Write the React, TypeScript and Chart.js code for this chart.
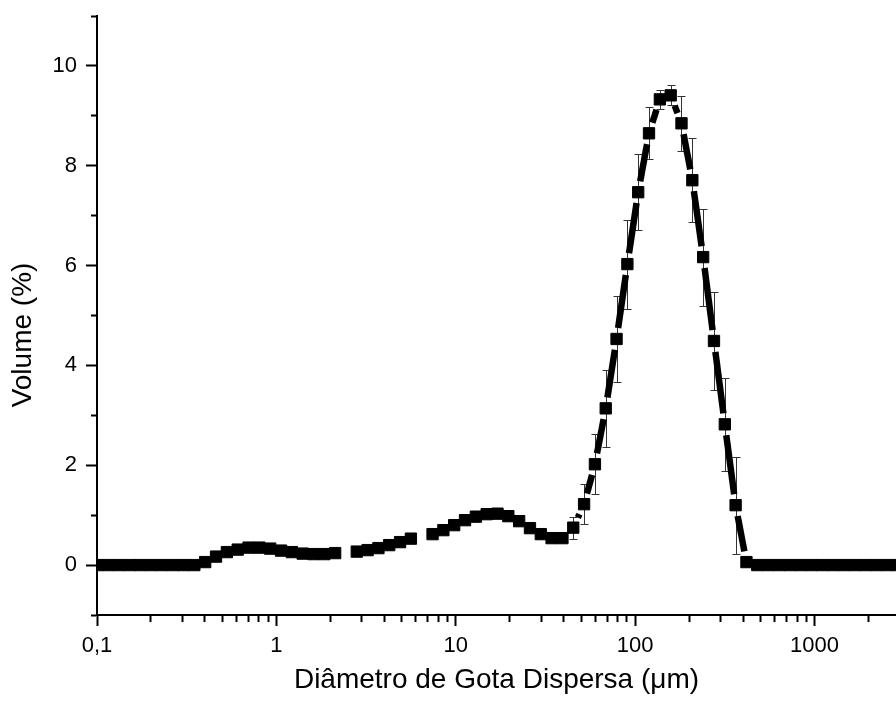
import { useEffect, useRef } from 'react';
import { Chart, registerables } from 'chart.js';

Chart.register(...registerables);

// Droplet diameter classes (µm)
const diameters = [
  0.1, 0.115, 0.132, 0.152, 0.174, 0.2, 0.23, 0.265, 0.304, 0.349,
  0.401, 0.461, 0.53, 0.609, 0.7, 0.804, 0.924, 1.062, 1.22, 1.402,
  1.611, 1.851, 2.127, 2.444, 2.808, 3.227, 3.708, 4.26, 4.896, 5.625,
  6.464, 7.428, 8.535, 9.807, 11.27, 12.95, 14.88, 17.1, 19.65, 22.58,
  25.94, 29.81, 34.25, 39.36, 45.23, 51.97, 59.72, 68.62, 78.85, 90.61,
  104.1, 119.6, 137.5, 158.0, 181.5, 208.6, 239.7, 275.4, 316.5, 363.6,
  417.8, 480.1, 551.7, 633.9, 728.5, 837.0, 961.8, 1105, 1270, 1459,
  1677, 1927, 2214, 2544, 2924,
];

// Volume (%)
const volume: (number | null)[] = [
  0, 0, 0, 0, 0, 0, 0, 0, 0, 0,
  0.06, 0.17, 0.26, 0.31, 0.35, 0.35, 0.33, 0.29, 0.26, 0.23,
  0.22, 0.22, 0.24, null, 0.27, 0.3, 0.34, 0.4, 0.46, 0.53,
  null, 0.62, 0.7, 0.8, 0.9, 0.97, 1.02, 1.03, 0.98, 0.88,
  0.74, 0.62, 0.54, 0.54, 0.75, 1.22, 2.02, 3.14, 4.53, 6.03,
  7.47, 8.65, 9.33, 9.41, 8.85, 7.71, 6.17, 4.49, 2.82, 1.2,
  0.06, 0, 0, 0, 0, 0, 0, 0, 0, 0,
  0, 0, 0, 0, 0,
];

// Standard deviation (%)
const volumeError = [
  0, 0, 0, 0, 0, 0, 0, 0, 0, 0,
  0, 0, 0, 0, 0, 0, 0, 0, 0, 0,
  0, 0, 0, 0, 0, 0, 0, 0, 0, 0,
  0, 0, 0, 0, 0, 0, 0, 0, 0, 0,
  0, 0, 0, 0.04, 0.22, 0.4, 0.6, 0.77, 0.87, 0.89,
  0.76, 0.52, 0.19, 0.2, 0.55, 0.84, 0.97, 0.98, 0.93, 0.97,
  0.05, 0, 0, 0, 0, 0, 0, 0, 0, 0,
  0, 0, 0, 0, 0,
];

const xMajorTicks = [0.1, 1, 10, 100, 1000];
const xTickLabels = ['0,1', '1', '10', '100', '1000'];
const xMinorTicks = [
  0.2, 0.3, 0.4, 0.5, 0.6, 0.7, 0.8, 0.9,
  2, 3, 4, 5, 6, 7, 8, 9,
  20, 30, 40, 50, 60, 70, 80, 90,
  200, 300, 400, 500, 600, 700, 800, 900,
  2000,
];
const yMajorTicks = [0, 2, 4, 6, 8, 10];
const yTickLabels = ['0', '2', '4', '6', '8', '10'];
const yMinorTicks = [-1, 1, 3, 5, 7, 9, 11];

const xTitle = 'Diâmetro de Gota Dispersa (μm)';
const yTitle = 'Volume (%)';

const FONT = "'Liberation Sans', Arial, sans-serif";
const GAP = 11;

const errorBarPlugin = {
  id: 'errorBars',
  beforeDatasetsDraw(chart: any) {
    const { ctx, chartArea, scales } = chart;
    const xs = scales.x;
    const ys = scales.y;
    ctx.save();
    ctx.beginPath();
    ctx.rect(chartArea.left, chartArea.top, chartArea.right - chartArea.left, chartArea.bottom - chartArea.top);
    ctx.clip();
    ctx.strokeStyle = '#333';
    ctx.lineWidth = 1;
    diameters.forEach((d, i) => {
      const v = volume[i];
      const e = volumeError[i];
      if (v == null || !e) return;
      const px = Math.round(xs.getPixelForValue(d)) + 0.5;
      const top = Math.round(ys.getPixelForValue(v + e)) + 0.5;
      const bot = Math.round(ys.getPixelForValue(v - e)) + 0.5;
      ctx.beginPath();
      ctx.moveTo(px, top);
      ctx.lineTo(px, bot);
      ctx.moveTo(px - 4, top);
      ctx.lineTo(px + 4, top);
      ctx.moveTo(px - 4, bot);
      ctx.lineTo(px + 4, bot);
      ctx.stroke();
    });
    ctx.restore();
  },
};

// Y-axis title, placed like the original (centred a bit below the plot's middle)
const yTitlePlugin = {
  id: 'yTitle',
  afterDraw(chart: any) {
    const { ctx } = chart;
    ctx.save();
    ctx.translate(23, 335);
    ctx.rotate(-Math.PI / 2);
    ctx.fillStyle = '#000';
    ctx.font = `28px ${FONT}`;
    ctx.textAlign = 'center';
    ctx.textBaseline = 'middle';
    ctx.fillText(yTitle, 0, 0);
    ctx.restore();
  },
};

function segLen(c: any) {
  return Math.hypot(c.p1.x - c.p0.x, c.p1.y - c.p0.y);
}

export default function App() {
  const ref = useRef<HTMLCanvasElement | null>(null);

  useEffect(() => {
    if (!ref.current) return;
    const chart = new Chart(ref.current, {
      type: 'line',
      data: {
        datasets: [
          {
            data: diameters.map((d, i) => ({ x: d, y: volume[i] })) as any,
            borderColor: '#000',
            borderWidth: 6.5,
            borderCapStyle: 'butt',
            backgroundColor: '#000',
            pointStyle: 'rect',
            pointRadius: 8,
            pointBorderWidth: 1,
            pointBackgroundColor: '#000',
            pointBorderColor: '#000',
            spanGaps: false,
            clip: 0,
            tension: 0,
            segment: {
              borderDash: (c: any) => [Math.max(segLen(c) - 2 * GAP, 0), 2 * GAP],
              borderDashOffset: (c: any) => Math.max(segLen(c) - 2 * GAP, 0) + GAP,
            },
          },
        ],
      },
      options: {
        responsive: false,
        animation: false,
        layout: { autoPadding: false, padding: { top: 16, right: 0, left: 0, bottom: 0 } },
        plugins: { legend: { display: false }, tooltip: { enabled: false } },
        scales: {
          x: {
            type: 'logarithmic',
            min: 0.1,
            max: 2850,
            afterBuildTicks: (s: any) => {
              s.ticks = [...xMajorTicks, ...xMinorTicks].sort((a, b) => a - b).map((v) => ({ value: v, major: xMajorTicks.includes(v) }));
            },
            afterFit: (s: any) => {
              s.height = 88;
              s.paddingLeft = 0;
              s.paddingRight = 0;
            },
            ticks: {
              autoSkip: false,
              maxRotation: 0,
              color: '#000',
              font: { family: FONT, size: 22 },
              padding: 7,
              callback: (v: any) => {
                const k = xMajorTicks.indexOf(Number(v));
                return k >= 0 ? xTickLabels[k] : '';
              },
            },
            grid: {
              drawOnChartArea: false,
              drawTicks: true,
              tickLength: 11,
              tickColor: '#000',
              tickWidth: 2,
              tickBorderDash: (c: any) => (xMajorTicks.includes(c.tick?.value) ? [] : [6, 20]),
              tickBorderDashOffset: 0,
            },
            border: { display: true, color: '#000', width: 2 },
            title: {
              display: true,
              text: xTitle,
              color: '#000',
              font: { family: FONT, size: 28 },
              padding: { top: 0, bottom: 6 },
            },
          },
          y: {
            type: 'linear',
            min: -1,
            max: 11,
            afterBuildTicks: (s: any) => {
              s.ticks = [...yMajorTicks, ...yMinorTicks].sort((a, b) => a - b).map((v) => ({ value: v }));
            },
            afterFit: (s: any) => {
              s.width = 97;
              s.paddingTop = 0;
              s.paddingBottom = 0;
            },
            ticks: {
              autoSkip: false,
              color: '#000',
              font: { family: FONT, size: 22 },
              padding: 9,
              callback: (v: any) => {
                const k = yMajorTicks.indexOf(Number(v));
                return k >= 0 ? yTickLabels[k] : '';
              },
            },
            grid: {
              drawOnChartArea: false,
              drawTicks: true,
              tickLength: 11,
              tickColor: '#000',
              tickWidth: 2,
              tickBorderDash: (c: any) => (yMajorTicks.includes(c.tick?.value) ? [] : [6, 5]),
              tickBorderDashOffset: (c: any) => (yMajorTicks.includes(c.tick?.value) ? 0 : 6),
            },
            border: { display: true, color: '#000', width: 2 },
            title: { display: false },
          },
        },
      },
      plugins: [errorBarPlugin, yTitlePlugin],
    } as any);
    return () => chart.destroy();
  }, []);

  return (
    <canvas
      ref={ref}
      width={896}
      height={703}
      style={{ position: 'absolute', left: 0, top: 0, width: 896, height: 703 }}
    />
  );
}
